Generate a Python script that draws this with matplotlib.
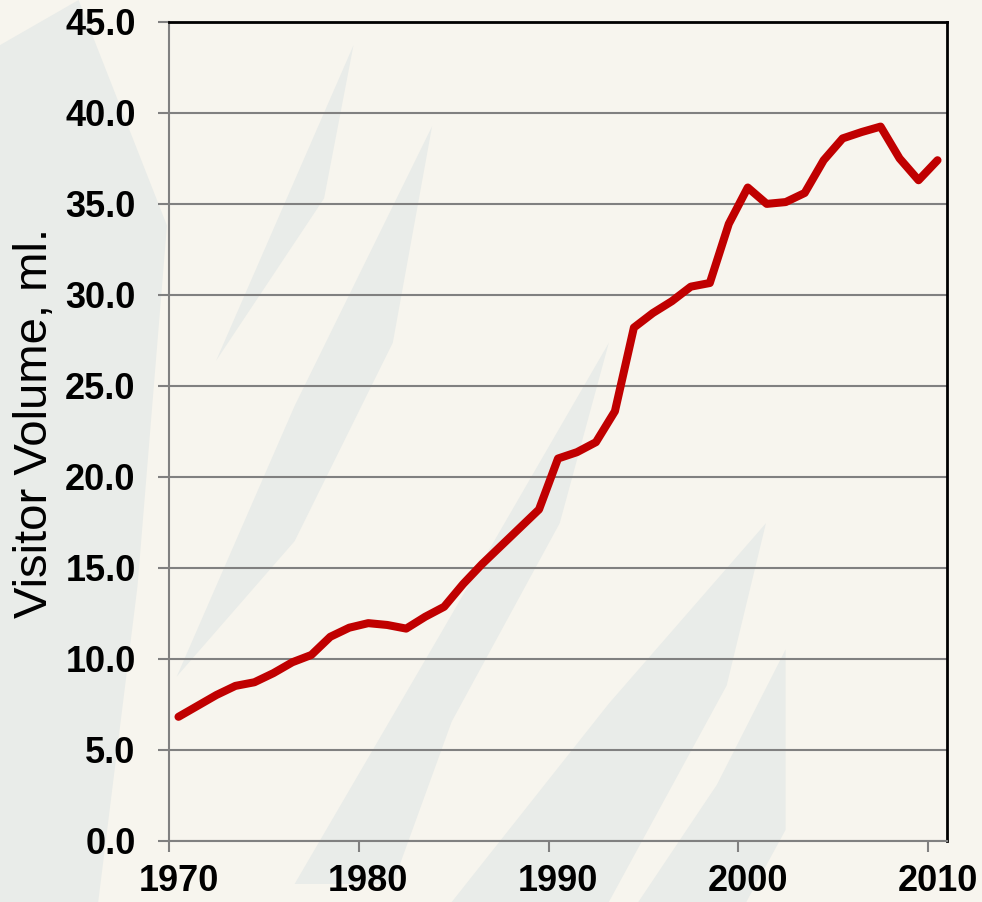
import matplotlib.pyplot as plt
from matplotlib.patches import Polygon

years = list(range(1970, 2011))
visitors = [6.8, 7.4, 8.0, 8.5, 8.7, 9.2, 9.8, 10.2, 11.2, 11.7,
            11.95, 11.85, 11.65, 12.3, 12.85, 14.1, 15.2, 16.2, 17.2, 18.2,
            21.0, 21.35, 21.9, 23.6, 28.2, 29.0, 29.65, 30.45, 30.65, 33.9,
            35.9, 35.0, 35.1, 35.6, 37.4, 38.6, 38.95, 39.25, 37.5, 36.3,
            37.4]
y_ticks = [0, 5, 10, 15, 20, 25, 30, 35, 40, 45]
x_labels = [1970, 1980, 1990, 2000, 2010]

plt.rcParams['font.family'] = ['Liberation Sans', 'DejaVu Sans']

fig = plt.figure(figsize=(9.82, 9.02), dpi=100)
fig.patch.set_facecolor('#f7f5ee')

# background paper with pale diagonal streaks
bg = fig.add_axes([0, 0, 1, 1], zorder=-10)
bg.set_xlim(0, 1)
bg.set_ylim(0, 1)
bg.axis('off')
streaks = [
    [(0.0, 0.0), (0.0, 0.95), (0.08, 1.0), (0.17, 0.75), (0.14, 0.35), (0.10, 0.0)],
    [(0.18, 0.25), (0.30, 0.55), (0.44, 0.86), (0.40, 0.62), (0.30, 0.40)],
    [(0.22, 0.60), (0.30, 0.80), (0.36, 0.95), (0.33, 0.78)],
    [(0.30, 0.02), (0.45, 0.30), (0.62, 0.62), (0.57, 0.42), (0.46, 0.20), (0.40, 0.02)],
    [(0.46, 0.0), (0.62, 0.22), (0.78, 0.42), (0.74, 0.24), (0.62, 0.0)],
    [(0.65, 0.0), (0.73, 0.13), (0.80, 0.28), (0.80, 0.08), (0.76, 0.0)],
]
for pts in streaks:
    bg.add_patch(Polygon(pts, closed=True, facecolor='#e9ece9', edgecolor='none'))

ax = fig.add_axes([169/982, 1 - 840.5/902, (947-169)/982, (840.5-22)/902])
ax.patch.set_alpha(0)

x = [yr + 0.5 for yr in years]
ax.plot(x, visitors, color='#c00000', linewidth=5.8, solid_joinstyle='round',
        solid_capstyle='round', zorder=3)

ax.set_xlim(1970, 2011)
ax.set_ylim(0, 45)

ax.set_yticks(y_ticks)
ax.set_yticklabels(['%.1f' % v for v in y_ticks], fontsize=26, fontweight='bold')
ax.yaxis.grid(True, color='#808080', linewidth=1.5)
ax.set_axisbelow(True)

ax.set_xticks(x_labels)
ax.set_xticklabels([])
ax.set_xticks([v + 0.5 for v in x_labels], minor=True)
ax.set_xticklabels([str(v) for v in x_labels], minor=True, fontsize=26, fontweight='bold')
ax.tick_params(axis='x', which='minor', length=0, pad=17)
ax.tick_params(axis='x', which='major', length=8, width=1.5, color='#808080')
ax.tick_params(axis='y', length=8, width=1.5, color='#808080', pad=16)

ax.spines['left'].set_color('#808080')
ax.spines['bottom'].set_color('#808080')
ax.spines['left'].set_linewidth(1.5)
ax.spines['bottom'].set_linewidth(1.5)
ax.spines['top'].set_color('black')
ax.spines['right'].set_color('black')
ax.spines['top'].set_linewidth(2)
ax.spines['right'].set_linewidth(2)

ax.set_ylabel('Visitor Volume, ml.', fontsize=34)
ax.yaxis.set_label_coords(-0.144, 0.51)

fig.savefig('out.png', dpi=100, facecolor=fig.get_facecolor())
